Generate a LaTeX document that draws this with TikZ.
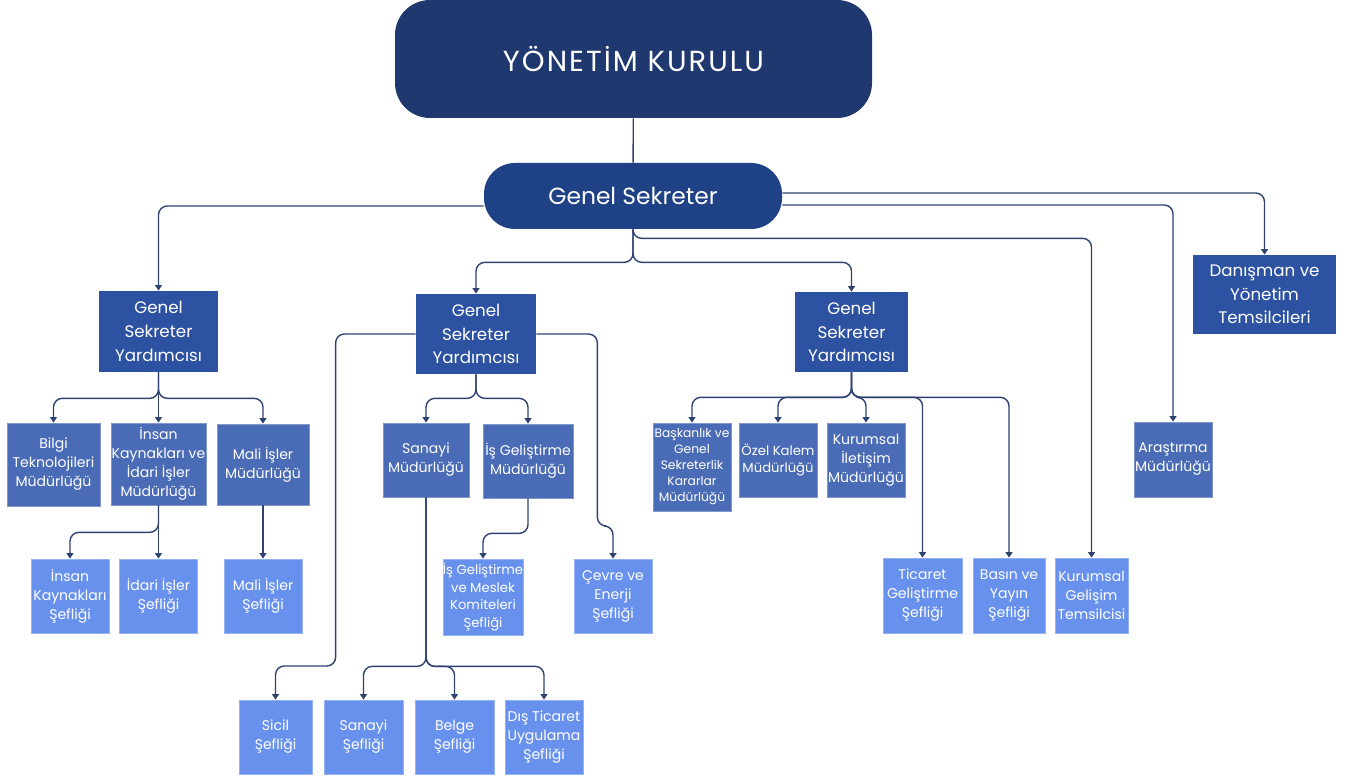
\documentclass[tikz,border=0pt]{standalone}
\usepackage{fontspec}
\setmainfont{Poppins}
\usetikzlibrary{arrows.meta}
\definecolor{ykblue}{HTML}{1F386F}
\definecolor{gsblue}{HTML}{1F4186}
\definecolor{gsyblue}{HTML}{2D52A2}
\definecolor{mudblue}{HTML}{4A6BB6}
\definecolor{sefblue}{HTML}{6891EE}
\definecolor{linkblue}{HTML}{2E4271}
\tikzset{
  box/.style={inner sep=0pt, align=center, text=white},
  sz/.style 2 args={minimum width=#1*0.02cm, minimum height=#2*0.02cm},
  yard/.style={box, fill=gsyblue, font=\fontsize{9.5}{13.5}\selectfont},
  mud/.style={box, fill=mudblue, draw=mudblue!70!white, font=\fontsize{8}{10.8}\selectfont},
  sef/.style={box, fill=sefblue, draw=sefblue!70!white, font=\fontsize{8}{10.8}\selectfont},
  link/.style={draw=linkblue, line width=0.8pt, rounded corners=5pt},
  arr/.style={link, ->, >={Triangle[length=3.2pt,width=4pt]}}
}
\begin{document}
\begin{tikzpicture}[x=0.02cm, y=-0.02cm]
    \useasboundingbox (0,0) rectangle (1354,780);
    % ust kademe
    \node[box, sz={477}{118}, fill=ykblue, rounded corners=0.7cm, font=\fontsize{16.5}{19}\selectfont\addfontfeature{LetterSpace=7}] (yk) at (633.5,59) {YÖNETİM KURULU};
    \node[box, sz={298}{66}, fill=gsblue, rounded corners=0.62cm, font=\fontsize{13.3}{15}\selectfont] (gs) at (633,196) {Genel Sekreter};
    \node[yard, sz={119}{81}] (gsyA) at (158.5,331.5) {Genel\\Sekreter\\Yardımcısı};
    \node[yard, sz={120}{80}] (gsyB) at (476,334) {Genel\\Sekreter\\Yardımcısı};
    \node[yard, sz={113}{80}] (gsyC) at (851.5,332) {Genel\\Sekreter\\Yardımcısı};
    \node[yard, sz={143}{79}] (danisman) at (1264.5,294.5) {Danışman ve\\Yönetim\\Temsilcileri};
    % mudurlukler
    \node[mud, sz={93}{83}] (bilgi) at (53.5,464.5) {Bilgi\\Teknolojileri\\Müdürlüğü};
    \node[mud, sz={95}{82}] (ikii) at (158.5,464) {İnsan\\Kaynakları ve\\İdari İşler\\Müdürlüğü};
    \node[mud, sz={92}{81}] (mali) at (263,464.5) {Mali İşler\\Müdürlüğü};
    \node[mud, sz={86}{74}] (sanayim) at (426,460) {Sanayi\\Müdürlüğü};
    \node[mud, sz={90}{74}] (isgel) at (528,461) {İş Geliştirme\\Müdürlüğü};
    \node[mud, sz={78}{88}, font=\fontsize{7}{9.1}\selectfont] (bask) at (692,467) {Başkanlık ve\\Genel\\Sekreterlik\\Kararlar\\Müdürlüğü};
    \node[mud, sz={78}{74}, font=\fontsize{7.5}{9.8}\selectfont] (ozel) at (778,460) {Özel Kalem\\Müdürlüğü};
    \node[mud, sz={78}{74}] (kurilt) at (866,460) {Kurumsal\\İletişim\\Müdürlüğü};
    \node[mud, sz={78}{75}] (arastirma) at (1173,459.5) {Araştırma\\Müdürlüğü};
    % seflikler
    \node[sef, sz={78}{74}] (iks) at (70,596) {İnsan\\Kaynakları\\Şefliği};
    \node[sef, sz={78}{74}] (idari) at (158.5,596) {İdari İşler\\Şefliği};
    \node[sef, sz={78}{74}] (malis) at (263,596) {Mali İşler\\Şefliği};
    \node[sef, sz={78}{76}, font=\fontsize{7.5}{10}\selectfont] (isgelm) at (483,597) {İş Geliştirme\\ve Meslek\\Komiteleri\\Şefliği};
    \node[sef, sz={78}{74}] (cevre) at (613,596) {Çevre ve\\Enerji\\Şefliği};
    \node[sef, sz={79}{75}] (ticaret) at (922.5,595.5) {Ticaret\\Geliştirme\\Şefliği};
    \node[sef, sz={72}{75}] (basin) at (1009,595.5) {Basın ve\\Yayın\\Şefliği};
    \node[sef, sz={73}{75}] (kgt) at (1091.5,595.5) {Kurumsal\\Gelişim\\Temsilcisi};
    \node[sef, sz={73}{74}] (sicil) at (275.5,737) {Sicil\\Şefliği};
    \node[sef, sz={79}{74}] (sanayis) at (363.5,737) {Sanayi\\Şefliği};
    \node[sef, sz={79}{74}] (belge) at (454.5,737) {Belge\\Şefliği};
    \node[sef, sz={78}{74}] (distic) at (544,737) {Dış Ticaret\\Uygulama\\Şefliği};
    % baglantilar
    \draw[link] (yk) -- (gs);
    \draw[arr] ([yshift=-0.2cm]gs.west) -| (gsyA.north);
    \draw[arr] ([yshift=0.06cm]gs.east) -| (danisman.north);
    \draw[arr] ([yshift=-0.18cm]gs.east) -| (arastirma.north);
    \draw[arr] (gs.south) -- ++(0,9) -| (kgt.north);
    \draw[arr] (gs.south) -- ++(0,33) -| (gsyB.north);
    \draw[arr] (gs.south) -- ++(0,33) -| (gsyC.north);
    \foreach \n in {bilgi,ikii,mali}
        \draw[arr] (gsyA.south) -- ++(0,26) -| (\n.north);
    \draw[arr] (ikii.south) -- ++(0,27) -| (iks.north);
    \draw[arr] (ikii.south) -- (idari.north);
    \draw[arr] (mali.south) -- (malis.north);
    \draw[arr] (gsyB.south) -- ++(0,24) -| (sanayim.north);
    \draw[arr] (gsyB.south) -- ++(0,24) -| (isgel.north);
    \draw[arr] (gsyB.west) -- ++(-80,0) -- ++(0,332) -| (sicil.north);
    \draw[arr] (gsyB.east) -- ++(61,0) -- ++(0,192) -| (cevre.north);
    \draw[arr] (isgel.south) -- ++(0,35) -| (isgelm.north);
    \foreach \n in {sanayis,belge,distic}
        \draw[arr] (sanayim.south) -- ++(0,169) -| (\n.north);
    \foreach \n in {bask,ozel,kurilt,ticaret,basin}
        \draw[arr] (gsyC.south) -- ++(0,25) -| (\n.north);
\end{tikzpicture}
\end{document}
